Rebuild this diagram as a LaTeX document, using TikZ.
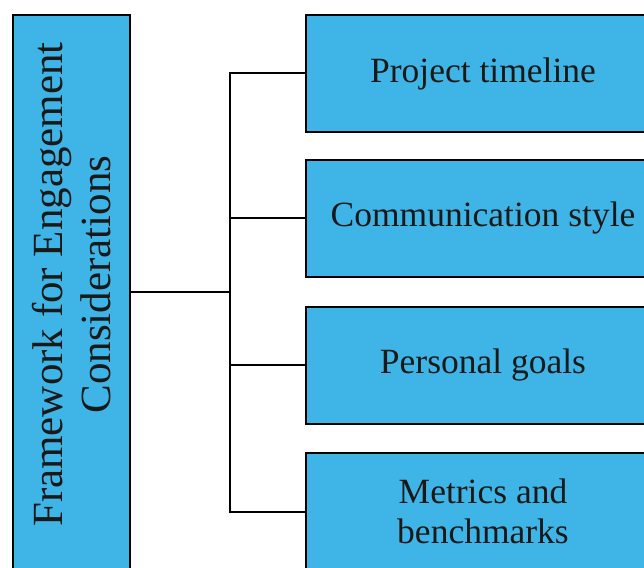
\documentclass[tikz,border=0pt]{standalone}
\usepackage{fontspec}
\setmainfont{Liberation Serif}
\usetikzlibrary{positioning}

\definecolor{boxblue}{RGB}{62,181,230}

\tikzset{
	itembox/.style = {draw=black, line width=2pt, fill=boxblue, minimum width=354pt, minimum height=117pt,
		align=center, inner sep=0pt, font=\fontsize{35.5}{40}\selectfont, text=black!90},
	framebox/.style = {draw=black, line width=2pt, fill=boxblue, minimum width=117pt, minimum height=555pt,
		inner sep=0pt},
	link/.style = {draw=black, line width=2pt}
}

\begin{document}
\begin{tikzpicture}[x=1pt, y=1pt]
					% Page size of the reference
						\useasboundingbox (0,0) rectangle (644,567);
						\clip (0,0) rectangle (644,567);

					% The framework box on the left
						\node [framebox] (frame) at (71.5,274.5) {};
						\node [rotate=90, align=center, font=\fontsize{43}{48}\selectfont, text=black!90] (frametext) at ([yshift=8pt]frame.center)
							{Framework for Engagement\\Considerations};

					% The four considerations
						\foreach \i/\y/\lab in {
							1/493.5/{Project timeline},
							2/348.5/{Communication style},
							3/201.5/{Personal goals},
							4/55.5/{Metrics and\\benchmarks}} {
								\node [itembox] (item\i) at (483,\y) {\lab};
								}

					% Connectors from the framework box to each item
						\draw [link] (frame.east) -- ++(99,0) coordinate (hub);
						\foreach \i in {1,...,4} {
							\draw [link] (hub) |- (item\i.west);
							}

					\end{tikzpicture}
\end{document}
